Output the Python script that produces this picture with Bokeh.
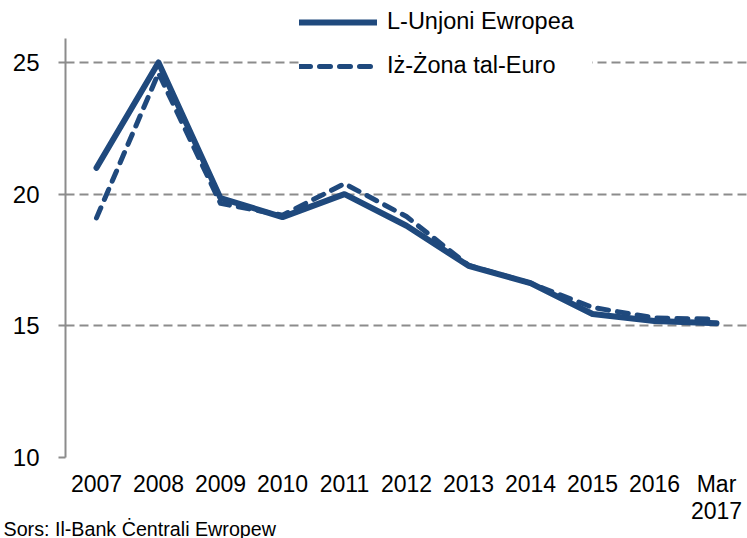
from bokeh.plotting import figure
from bokeh.models import (Legend, LegendItem, Title, FixedTicker, Range1d, CategoricalAxis,
                          CustomJSTickFormatter)
from bokeh.embed import file_html
from bokeh.resources import INLINE

categories = ["2007", "2008", "2009", "2010", "2011", "2012", "2013", "2014", "2015", "2016", "Mar 2017"]
eu_values = [21.0, 25.0, 19.85, 19.13, 20.0, 18.8, 17.28, 16.62, 15.45, 15.18, 15.1]
euro_values = [19.1, 24.6, 19.65, 19.2, 20.4, 19.15, 17.3, 16.62, 15.7, 15.3, 15.25]
y_ticks = [10, 15, 20, 25]
label_eu = "L-Unjoni Ewropea"
label_euro = "Iż-Żona tal-Euro"
source_text = "Sors: Il-Bank Ċentrali Ewropew"

FONT = "Liberation Sans"
LINE_COLOR = "#1F497D"
GRID_COLOR = "#8C8C8C"

p = figure(x_range=categories, y_range=Range1d(10, 27.355), width=747, height=538,
           output_backend="svg", toolbar_location=None,
           min_border_left=65, min_border_top=0, min_border_bottom=81, min_border_right=0)
p.outline_line_color = None
p.background_fill_color = "white"
p.border_fill_color = "white"

r1 = p.line(categories, eu_values, line_color=LINE_COLOR, line_width=6, line_join="round", line_cap="round")
r2 = p.line(categories, euro_values, line_color=LINE_COLOR, line_width=5, line_dash="11 9",
            line_join="round", line_cap="round")

# grids
p.xgrid.grid_line_color = None
p.ygrid.grid_line_color = GRID_COLOR
p.ygrid.grid_line_width = 2
p.ygrid.grid_line_dash = "9 5"
p.yaxis.ticker = FixedTicker(ticks=y_ticks)
p.yaxis.bounds = (10, 25.91)

# y axis
p.yaxis.axis_line_color = GRID_COLOR
p.yaxis.axis_line_width = 2
p.yaxis.major_tick_line_color = GRID_COLOR
p.yaxis.major_tick_line_width = 2
p.yaxis.major_tick_out = 7
p.yaxis.major_tick_in = 0
p.yaxis.minor_tick_line_color = None
p.yaxis.major_label_text_font = FONT
p.yaxis.major_label_text_font_size = "24px"
p.yaxis.major_label_text_color = "black"
p.yaxis.major_label_standoff = 19

# x axis (first line of labels)
xa = p.xaxis[0]
xa.axis_line_color = None
xa.major_tick_line_color = None
xa.minor_tick_line_color = None
xa.major_label_text_font = FONT
xa.major_label_text_font_size = "23px"
xa.major_label_text_color = "black"
xa.major_label_standoff = 7
xa.formatter = CustomJSTickFormatter(code="return tick.indexOf(' ') >= 0 ? tick.split(' ')[0] : tick;")

# second line of labels
xa2 = CategoricalAxis()
xa2.axis_line_color = None
xa2.major_tick_line_color = None
xa2.minor_tick_line_color = None
xa2.major_label_text_font = FONT
xa2.major_label_text_font_size = "23px"
xa2.major_label_text_color = "black"
xa2.major_label_standoff = -4
xa2.formatter = CustomJSTickFormatter(code="return tick.indexOf(' ') >= 0 ? tick.split(' ')[1] : '';")
p.add_layout(xa2, "below")

legend = Legend(items=[LegendItem(label=label_eu, renderers=[r1]),
                       LegendItem(label=label_euro, renderers=[r2])],
                location=(234, 378), orientation="vertical")
legend.label_text_font = FONT
legend.label_text_font_size = "23.5px"
legend.label_text_color = "black"
legend.glyph_width = 78
legend.glyph_height = 26
legend.label_height = 26
legend.label_width = 205
legend.label_standoff = 10
legend.spacing = 17
legend.padding = 1
legend.margin = 0
legend.border_line_color = None
legend.background_fill_color = "white"
legend.background_fill_alpha = 1.0
p.add_layout(legend, "center")

src = Title(text=source_text, align="left", offset=-62, standoff=-12,
            text_font=FONT, text_font_size="19.7px", text_font_style="normal", text_color="black")
p.add_layout(src, "below")

open("out.html", "w").write(file_html(p, INLINE))
